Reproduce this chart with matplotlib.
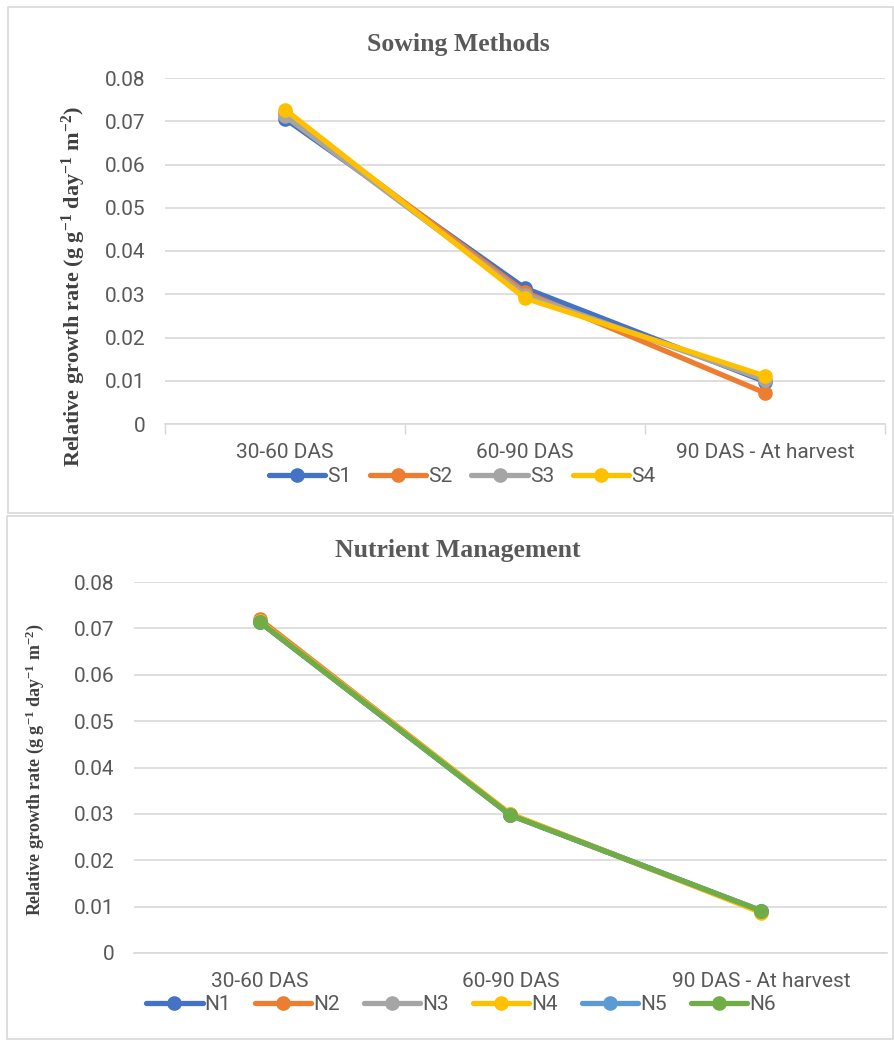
import matplotlib
matplotlib.use("Agg")
import matplotlib.pyplot as plt
from matplotlib.patches import Rectangle

plt.rcParams['font.family'] = ['Roboto', 'DejaVu Sans']
plt.rcParams['mathtext.fontset'] = 'custom'
plt.rcParams['mathtext.rm'] = 'Liberation Serif:bold'
plt.rcParams['mathtext.default'] = 'rm'

stages = ['30-60 DAS', '60-90 DAS', '90 DAS - At harvest']
yticks = [0, 0.01, 0.02, 0.03, 0.04, 0.05, 0.06, 0.07, 0.08]
ytick_labels = ['0', '0.01', '0.02', '0.03', '0.04', '0.05', '0.06', '0.07', '0.08']

sowing_names = ['S1', 'S2', 'S3', 'S4']
s1 = [0.0706, 0.0314, 0.0098]
s2 = [0.0718, 0.0305, 0.0072]
s3 = [0.0712, 0.0299, 0.0102]
s4 = [0.0727, 0.0291, 0.0111]

nutrient_names = ['N1', 'N2', 'N3', 'N4', 'N5', 'N6']
n1 = [0.0714, 0.0298, 0.0090]
n2 = [0.0720, 0.0299, 0.0089]
n3 = [0.0715, 0.0298, 0.0090]
n4 = [0.0716, 0.0300, 0.0087]
n5 = [0.0714, 0.0297, 0.0091]
n6 = [0.0714, 0.0297, 0.0091]

office = ['#4472C4', '#ED7D31', '#A5A5A5', '#FFC000', '#5B9BD5', '#70AD47']
ylab = r'Relative growth rate (g g$^{-1}$ day$^{-1}$ m$^{-2}$)'

W, H = 894, 1040
fig = plt.figure(figsize=(W / 100, H / 100), dpi=100)

# panel frames
for (x0, y0, x1, y1) in [(8, 7, 893, 513), (7, 516, 893, 1039)]:
    fig.patches.append(Rectangle((x0 / W, 1 - y1 / H), (x1 - x0) / W, (y1 - y0) / H,
                                 transform=fig.transFigure, fill=False,
                                 edgecolor='#D9D9D9', lw=1.2))


def panel(box, names, series, title, title_y, label_x, label_y, label_fs, leg_y, leg_x, ticks_out,
          colsp):
    l, t, r, b = box
    ax = fig.add_axes([l / W, 1 - b / H, (r - l) / W, (b - t) / H])
    x = range(len(stages))
    for i, (name, vals) in enumerate(zip(names, series)):
        ax.plot(x, vals, color=office[i], lw=3.8, marker='o', ms=9.5,
                solid_capstyle='round', label=name, zorder=3 + i)
    ax.set_xlim(-0.5, len(stages) - 0.5)
    ax.set_ylim(0, 0.08)
    ax.set_yticks(yticks)
    ax.set_yticklabels(ytick_labels, fontsize=15, color='#595959')
    ax.set_xticks(list(x))
    ax.set_xticklabels(stages, fontsize=15, color='#595959')
    ax.tick_params(axis='y', length=0, pad=14)
    ax.tick_params(axis='x', length=0, pad=14)
    if ticks_out:
        ax.set_xticks([-0.5, 0.5, 1.5, 2.5], minor=True)
        ax.tick_params(axis='x', which='minor', length=7, color='#D9D9D9', width=1)
    ax.grid(axis='y', color='#D9D9D9', lw=1.2)
    ax.set_axisbelow(True)
    for s in ['top', 'right', 'left']:
        ax.spines[s].set_visible(False)
    ax.spines['bottom'].set_color('#D9D9D9')
    ax.spines['bottom'].set_linewidth(1.2)
    fig.text(458 / W, 1 - title_y / H, title, ha='center', va='center',
             fontsize=18.5, fontweight='bold', family='Liberation Serif', color='#595959')
    fig.text(label_x / W, 1 - label_y / H, ylab, rotation=90, ha='center', va='center',
             fontsize=label_fs, fontweight='bold', family='Liberation Serif', color='#404040')
    ax.legend(loc='center', bbox_to_anchor=(leg_x / W, 1 - leg_y / H), bbox_transform=fig.transFigure,
              ncol=len(names), frameon=False, fontsize=15, handlelength=2.7, handletextpad=0.1,
              columnspacing=colsp, labelcolor='#595959', borderpad=0)
    return ax


panel((165, 78, 885, 424), sowing_names, [s1, s2, s3, s4], 'Sowing Methods', 45, 74, 287, 16,
      477, 462, True, 0.9)
panel((134, 582, 887, 953), nutrient_names, [n1, n2, n3, n4, n5, n6], 'Nutrient Management', 551,
      35, 770, 13, 1005, 461, False, 1.15)

fig.savefig('out.png', dpi=100)
